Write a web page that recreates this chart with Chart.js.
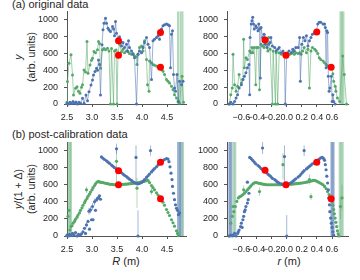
<!DOCTYPE html>
<html>
<head>
<meta charset="utf-8">
<script src="https://cdn.jsdelivr.net/npm/chart.js@4.4.1/dist/chart.umd.min.js"></script>
<style>
  html, body { margin: 0; padding: 0; background: #fff; }
  body { width: 360px; height: 280px; position: relative; overflow: hidden;
         font-family: "Liberation Sans", Arial, sans-serif; color: #262626; }
  canvas { position: absolute; }
  .ttl { position: absolute; white-space: nowrap; font-size: 11px; line-height: 13px; }
  .ylab { position: absolute; white-space: nowrap; font-size: 10.5px; line-height: 13px; text-align: center;
          transform: translate(-50%, -50%) rotate(-90deg); }
  .xlab { position: absolute; white-space: nowrap; font-size: 11px; transform: translate(-50%, -50%); }
</style>
</head>
<body>
<div class="ttl" style="left:12px;top:-2px">(a) original data</div>
<div class="ttl" style="left:12px;top:128px">(b) post-calibration data</div>
<div class="ylab" style="left:25px;top:57px"><i>y</i><br>(arb. units)</div>
<div class="ylab" style="left:25px;top:189px"><i>y</i>/(1 + Δ)<br>(arb. units)</div>
<div class="xlab" style="left:126px;top:261px"><i>R</i> (m)</div>
<div class="xlab" style="left:289px;top:261px"><i>r</i> (m)</div>

<canvas id="cAL" width="160" height="128" style="left:30px;top:0px"></canvas>
<canvas id="cAR" width="160" height="128" style="left:195px;top:0px"></canvas>
<canvas id="cBL" width="160" height="128" style="left:30px;top:130px"></canvas>
<canvas id="cBR" width="160" height="128" style="left:195px;top:130px"></canvas>

<script>
// ---- values ----
const yTicks = [0, 200, 400, 600, 800, 1000];
const bigRTicks = [2.5, 3.0, 3.5, 4.0, 4.5];
const smallRTicks = [-0.6, -0.4, -0.2, 0.0, 0.2, 0.4, 0.6];
const yTop = 1100;

// (a) original data, against R  [R, y]
const aBlueR = [[2.50,10],[2.53,0],[2.56,20],[2.59,5],[2.62,30],[2.65,10],[2.68,25],[2.71,0],[2.74,20],[2.77,10],
  [2.81,67],[2.84,10],[2.88,107],[2.91,40],[2.94,147],[2.98,226],[3.01,286],[3.03,345],[3.06,385],[3.09,425],
  [3.11,400],[3.13,524],[3.15,470],[3.17,107],[3.20,703],[3.22,881],[3.24,960],[3.27,1020],[3.29,960],[3.32,900],
  [3.34,880],[3.37,861],[3.41,920],[3.43,890],[3.45,810],[3.47,980],[3.49,840],[3.52,762],[3.55,800],[3.57,730],
  [3.59,690],[3.62,730],[3.65,670],[3.69,710],[3.71,630],[3.73,750],[3.75,670],[3.79,630],[3.82,590],[3.85,550],
  [3.89,0],[3.92,590],[3.95,630],[3.99,610],[4.02,670],[4.05,730],[4.09,790],[4.12,710],[4.15,670],[4.19,290],
  [4.22,750],[4.25,770],[4.29,790],[4.32,810],[4.35,770],[4.39,890],[4.42,930],[4.45,940],[4.49,950],[4.52,940],
  [4.55,930],[4.57,430],[4.59,830],[4.61,870],[4.63,350],[4.65,190],[4.67,150],[4.70,350],[4.73,30],[4.75,270],
  [4.79,230],[4.82,270]];
const aGreenR = [[2.50,20],[2.51,266],[2.54,484],[2.58,584],[2.61,345],[2.63,107],[2.67,187],[2.70,206],[2.73,150],[2.76,127],
  [2.79,200],[2.81,230],[2.84,405],[2.87,380],[2.90,742],[2.92,365],[2.96,464],[2.99,520],[3.01,544],[3.04,623],
  [3.07,610],[3.11,643],[3.13,742],[3.15,720],[3.17,425],[3.21,643],[3.24,660],[3.27,643],[3.31,663],[3.34,630],
  [3.37,0],[3.39,660],[3.43,0],[3.45,630],[3.48,640],[3.50,0],[3.52,610],[3.55,710],[3.59,620],[3.62,650],
  [3.65,610],[3.69,630],[3.72,620],[3.75,600],[3.79,590],[3.82,600],[3.85,570],[3.89,560],[3.90,470],[3.92,590],
  [3.95,670],[3.99,690],[4.02,630],[4.05,750],[4.09,530],[4.11,230],[4.14,150],[4.15,510],[4.19,490],[4.22,470],
  [4.25,460],[4.29,450],[4.32,440],[4.35,430],[4.39,410],[4.42,390],[4.45,350],[4.49,290],[4.52,270],[4.55,250],
  [4.59,210],[4.62,170],[4.65,110],[4.69,70],[4.72,30],[4.75,10],[4.80,330],[4.83,20]];
const aRedR = [[3.53,750],[3.53,580],[4.37,848],[4.37,436]];
const aGreenBarsR = [[4.72,0,1100],[4.77,0,1100],[4.81,0,1100]];

// (a) original data, against r
const aBlueRho = [[-0.76,0],[-0.74,20],[-0.71,0],[-0.69,30],[-0.67,70],[-0.65,110],[-0.63,190],[-0.60,230],[-0.58,290],[-0.56,330],
  [-0.54,370],[-0.52,430],[-0.50,470],[-0.49,110],[-0.485,790],[-0.47,950],[-0.46,990],[-0.45,1030],[-0.44,950],[-0.43,890],
  [-0.41,930],[-0.40,910],[-0.38,870],[-0.37,950],[-0.36,890],[-0.35,310],[-0.34,910],[-0.32,790],[-0.30,830],[-0.29,710],
  [-0.26,670],[-0.24,710],[-0.22,730],[-0.21,790],[-0.19,690],[-0.16,670],[-0.14,630],[-0.12,650],[-0.10,670],[-0.07,610],
  [-0.05,630],[-0.03,590],[-0.02,0],[0.00,590],[0.03,630],[0.06,610],[0.08,650],[0.10,630],[0.12,670],[0.15,670],
  [0.17,790],[0.18,270],[0.20,710],[0.22,790],[0.24,750],[0.26,810],[0.28,690],[0.30,750],[0.32,790],[0.34,830],
  [0.37,850],[0.39,850],[0.41,950],[0.43,970],[0.45,970],[0.48,950],[0.50,950],[0.51,910],[0.52,430],[0.53,870],
  [0.54,850],[0.55,330],[0.56,150],[0.57,190],[0.59,330],[0.60,30],[0.61,110],[0.62,30],[0.64,0]];
const aGreenRho = [[-0.76,0],[-0.74,110],[-0.72,190],[-0.71,590],[-0.69,230],[-0.67,150],[-0.65,210],[-0.63,350],[-0.60,250],[-0.58,290],
  [-0.57,770],[-0.56,430],[-0.54,550],[-0.52,530],[-0.49,630],[-0.47,610],[-0.46,670],[-0.45,610],[-0.43,670],[-0.41,230],
  [-0.40,670],[-0.38,670],[-0.36,170],[-0.34,710],[-0.32,690],[-0.30,670],[-0.27,710],[-0.25,630],[-0.24,790],[-0.22,650],
  [-0.19,0],[-0.18,630],[-0.15,0],[-0.14,610],[-0.12,0],[-0.10,610],[-0.07,590],[-0.05,610],[-0.03,590],[-0.01,590],
  [0.01,610],[0.04,590],[0.06,600],[0.08,620],[0.10,590],[0.12,610],[0.15,600],[0.17,610],[0.19,590],[0.21,630],
  [0.23,670],[0.26,610],[0.28,650],[0.30,190],[0.32,630],[0.34,670],[0.37,650],[0.39,630],[0.41,600],[0.43,550],
  [0.45,530],[0.48,510],[0.50,490],[0.52,470],[0.54,455],[0.56,445],[0.59,430],[0.61,360],[0.62,270],[0.64,210],
  [0.65,150],[0.67,70],[0.70,30],[0.74,570],[0.76,350],[0.79,0]];
const aRedRho = [[-0.287,760],[-0.01,580],[0.397,856],[0.587,436]];
const aGreenBarsRho = [[0.71,0,1100],[0.73,0,1100],[0.75,0,1100]];

// (b) post-calibration data, against R
const bBlueR = [[2.50,10],[2.53,0],[2.55,20],[2.58,5],[2.61,30],[2.64,10],[2.67,40],[2.70,0],[2.73,20],[2.76,10],
  [2.79,25],[2.82,50],[2.85,90],[2.87,30],[2.89,130],[2.92,170],[2.94,290],[2.95,80],[2.97,305],[2.99,190],
  [3.01,345],[3.02,190],[3.05,400],[3.07,300],[3.09,420],[3.11,440],[3.13,450],[3.15,470],[3.17,430],
  [3.19,925],[3.22,910],[3.25,895],[3.29,880],[3.32,865],[3.35,850],[3.39,830],[3.42,815],[3.45,800],[3.49,785],
  [3.52,770],[3.55,755],[3.59,740],[3.62,725],[3.65,710],[3.69,695],[3.72,680],[3.75,665],[3.79,650],[3.82,635],
  [3.85,625],[3.89,615],[3.92,610],[3.95,615],[3.99,625],[4.02,640],[4.05,660],[4.09,685],[4.12,705],[4.15,725],
  [4.19,750],[4.22,770],[4.25,790],[4.29,810],[4.32,830],[4.35,850],[4.39,865],[4.42,880],[4.45,895],[4.49,905],
  [4.52,900],[4.54,870],[4.56,810],[4.58,735],[4.60,660],[4.61,580],[4.63,500],[4.65,425],[4.67,365],[4.69,325],
  [4.71,300],[4.73,250],[4.75,270],
  [3.49,1020],[3.88,920],[3.92,0],[4.17,1000]];
const bGreenR = [[2.50,0],[2.52,230],[2.54,300],[2.56,70],[2.58,110],[2.60,120],[2.62,150],[2.65,170],[2.67,195],[2.70,220],
  [2.72,245],[2.75,270],[2.77,300],[2.80,330],[2.82,360],[2.85,390],[2.87,415],[2.90,440],[2.92,465],[2.95,490],
  [2.97,515],[3.00,540],[3.02,565],[3.05,590],[3.07,610],[3.10,630],[3.13,640],[3.16,630],[3.19,627],[3.22,625],
  [3.25,620],[3.28,615],[3.31,612],[3.34,608],[3.37,605],[3.40,603],[3.43,602],[3.46,600],[3.49,600],[3.52,600],
  [3.55,600],[3.58,602],[3.61,603],[3.64,605],[3.67,607],[3.70,608],[3.73,610],[3.76,612],[3.79,614],[3.82,616],
  [3.85,618],[3.88,620],[3.91,623],[3.94,626],[3.97,630],[4.00,634],[4.03,638],[4.06,643],[4.09,648],[4.12,650],
  [4.15,625],[4.19,590],[4.22,565],[4.25,540],[4.29,505],[4.32,480],[4.35,455],[4.39,430],[4.42,395],[4.45,360],
  [4.49,310],[4.52,275],[4.55,240],[4.59,190],[4.62,155],[4.65,115],[4.69,60],[4.71,30],[4.73,5],
  [2.89,540],[3.49,874],[3.90,560],[4.19,520]];
const bRedR = [[3.53,765],[3.53,600],[4.37,862],[4.37,436]];
const bBlueErrR = [[3.49,960,1080],[3.88,600,1060],[3.92,0,300],[4.17,940,1060],[2.89,100,160],[2.94,250,330],[2.97,265,345],[3.01,305,385],[3.05,360,440]];
const bGreenErrR = [[2.89,500,580],[3.49,600,1035],[3.90,330,680],[4.19,480,560]];
const bBlueBarsR = [[4.72,0,1100],[4.755,0,1100],[4.79,0,1100]];
const bGreenBarsR = [[2.53,0,1100],[2.555,0,1100],[2.58,0,1100],[4.76,0,1100],[4.82,0,1100]];

// (b) post-calibration data, against r
const bBlueRho = [[-0.76,0],[-0.74,10],[-0.72,0],[-0.71,10],[-0.69,30],[-0.67,0],[-0.65,30],[-0.64,50],[-0.63,70],[-0.61,110],
  [-0.60,150],[-0.59,100],[-0.58,190],[-0.57,230],[-0.56,285],[-0.55,305],[-0.54,345],[-0.52,385],[-0.51,425],[-0.50,500],
  [-0.49,920],[-0.47,905],[-0.45,885],[-0.43,865],[-0.41,845],[-0.38,825],[-0.36,810],[-0.34,790],[-0.32,780],[-0.30,770],
  [-0.27,745],[-0.25,725],[-0.23,710],[-0.21,695],[-0.19,675],[-0.16,660],[-0.14,645],[-0.12,630],[-0.10,620],[-0.07,610],
  [-0.05,605],[-0.03,600],[-0.01,600],[0.01,605],[0.04,615],[0.06,625],[0.08,640],[0.10,655],[0.12,670],[0.15,690],
  [0.17,705],[0.19,725],[0.21,745],[0.23,765],[0.26,785],[0.28,800],[0.30,815],[0.32,830],[0.34,845],[0.37,860],
  [0.39,870],[0.41,885],[0.43,900],[0.45,915],[0.47,920],[0.49,905],[0.50,885],[0.51,835],[0.52,775],[0.53,700],
  [0.54,620],[0.55,540],[0.555,445],[0.565,365],[0.57,285],[0.58,210],[0.59,150],[0.60,100],[0.61,50],[0.62,10],
  [-0.52,630],[-0.32,1030],[-0.03,930],[0.00,0],[0.23,1000]];
const bGreenRho = [[-0.76,0],[-0.74,150],[-0.72,230],[-0.71,345],[-0.70,285],[-0.68,345],[-0.66,405],[-0.64,445],[-0.62,460],[-0.60,470],
  [-0.58,485],[-0.56,500],[-0.54,520],[-0.52,540],[-0.50,560],[-0.48,580],[-0.46,600],[-0.44,615],[-0.42,625],[-0.40,625],
  [-0.38,620],[-0.36,615],[-0.34,612],[-0.32,608],[-0.30,605],[-0.28,602],[-0.26,600],[-0.24,600],[-0.22,600],[-0.20,600],
  [-0.18,600],[-0.16,600],[-0.14,600],[-0.12,600],[-0.10,600],[-0.08,600],[-0.06,600],[-0.04,600],[-0.02,600],[0.00,602],
  [0.02,603],[0.04,605],[0.06,607],[0.08,608],[0.10,610],[0.12,612],[0.14,614],[0.16,616],[0.18,618],[0.20,620],
  [0.22,623],[0.24,626],[0.26,630],[0.28,634],[0.30,638],[0.32,643],[0.34,648],[0.36,650],[0.38,648],[0.40,640],
  [0.42,630],[0.44,620],[0.46,610],[0.48,600],[0.50,580],[0.52,555],[0.54,520],[0.56,485],[0.58,450],[0.59,430],
  [0.60,400],[0.61,360],[0.62,310],[0.63,260],[0.64,210],[0.65,160],[0.66,110],[0.67,60],[0.68,25],[0.69,0],
  [-0.57,540],[-0.36,520],[-0.05,835],[0.30,660],[0.32,460],[0.71,345],[0.73,445]];
const bRedRho = [[-0.287,768],[-0.01,600],[0.397,862],[0.587,436]];
const bBlueErrRho = [[-0.32,960,1100],[-0.03,620,1060],[0.00,0,245],[0.23,935,1060]];
const bGreenErrRho = [[-0.57,490,590],[-0.36,470,570],[-0.05,660,970],[0.30,600,720],[0.32,420,500],[0.71,200,450],[0.73,300,600]];
const bBlueBarsRho = [[-0.76,0,1100],[-0.745,0,1100],[-0.73,0,1100],[0.59,0,1100],[0.605,0,1100],[0.62,0,1100]];
const bGreenBarsRho = [[-0.70,0,1100],[-0.68,0,1100],[0.70,0,1100],[0.72,0,1100],[0.74,0,1100]];

// ---- styling ----
const FONT = '"Liberation Sans", Arial, sans-serif';
const BLUE = '#4c72b0', GREEN = '#55a868', RED = '#ff0000';
const BLUE_LINE = 'rgba(76,114,176,0.55)', GREEN_LINE = 'rgba(85,168,104,0.55)';
const BLUE_ERR = 'rgba(76,114,176,0.5)', GREEN_ERR = 'rgba(85,168,104,0.45)';
const AXIS = '#555';

const toXY = pairs => pairs.map(p => ({ x: p[0], y: p[1] }));

function lineSet(pairs, dot, line, order) {
  return { data: toXY(pairs), showLine: true, borderColor: line, borderWidth: 1,
           pointRadius: 1.5, pointBackgroundColor: dot, pointBorderWidth: 0, clip: false, order };
}
function dotSet(pairs, dot, r, order) {
  return { data: toXY(pairs), showLine: false, pointRadius: r,
           pointBackgroundColor: dot, pointBorderWidth: 0, clip: false, order };
}
// one small two-point line per error bar
function errSets(list, col, w, order) {
  return list.map(e => ({ data: [{ x: e[0], y: e[1] }, { x: e[0], y: e[2] }], showLine: true,
    borderColor: col, borderWidth: w, pointRadius: 0, clip: false, order }));
}

const fmtR = v => Number(v).toFixed(1);
const fmtRho = v => (v < -1e-9 ? '\u2212' : '') + Math.abs(v).toFixed(1);

function tickStyle(pad, fmt) {
  return { autoSkip: false, maxRotation: 0, padding: pad, color: '#262626',
           font: { family: FONT, size: 9 }, callback: fmt };
}
const gridStyle = { drawOnChartArea: false, tickLength: 3, color: AXIS, lineWidth: 1 };
const borderStyle = { display: true, color: AXIS, width: 1 };

// area = chart area inside the canvas {l, t, r, b}
function panel(id, xMin, xMax, xTicks, fmt, area, datasets) {
  const cv = document.getElementById(id);
  new Chart(cv, {
    type: 'scatter',
    data: { datasets },
    options: {
      responsive: false,
      animation: false,
      devicePixelRatio: 1,
      layout: { padding: { left: 0, top: area.t, right: cv.width - area.r, bottom: 0 } },
      plugins: { legend: { display: false }, tooltip: { enabled: false } },
      scales: {
        x: {
          type: 'linear', min: xMin, max: xMax, offset: false,
          afterBuildTicks: s => { s.ticks = xTicks.map(v => ({ value: v })); },
          afterFit: s => { s.height = cv.height - area.b; },
          ticks: tickStyle(5, fmt), grid: gridStyle, border: borderStyle
        },
        y: {
          type: 'linear', min: 0, max: yTop,
          afterBuildTicks: s => { s.ticks = yTicks.map(v => ({ value: v })); },
          afterFit: s => { s.width = area.l; },
          ticks: tickStyle(6, v => String(v)), grid: gridStyle, border: borderStyle
        }
      }
    }
  });
}

const areaL = { l: 37, t: 11, r: 156, b: 104 };
const areaR = { l: 32, t: 11, r: 153, b: 104 };
const areaBL = { l: 37, t: 12, r: 156, b: 106 };
const areaBR = { l: 32, t: 12, r: 153, b: 106 };

panel('cAL', 2.5, 4.88, bigRTicks, fmtR, areaL, [
  dotSet(aRedR, RED, 3.5, 0),
  lineSet(aBlueR, BLUE, BLUE_LINE, 1),
  lineSet(aGreenR, GREEN, GREEN_LINE, 2),
  ...errSets(aGreenBarsR, GREEN_ERR, 2, 3)
]);

panel('cAR', -0.79, 0.81, smallRTicks, fmtRho, areaR, [
  dotSet(aRedRho, RED, 3.5, 0),
  lineSet(aBlueRho, BLUE, BLUE_LINE, 1),
  lineSet(aGreenRho, GREEN, GREEN_LINE, 2),
  ...errSets(aGreenBarsRho, GREEN_ERR, 2, 3)
]);

panel('cBL', 2.5, 4.88, bigRTicks, fmtR, areaBL, [
  dotSet(bRedR, RED, 3.5, 0),
  dotSet(bBlueR, BLUE, 1.6, 1),
  dotSet(bGreenR, GREEN, 1.6, 2),
  ...errSets(bBlueErrR, BLUE_ERR, 1, 3),
  ...errSets(bGreenErrR, GREEN_ERR, 1, 3),
  ...errSets(bBlueBarsR, BLUE_ERR, 2, 4),
  ...errSets(bGreenBarsR, GREEN_ERR, 2, 4)
]);

panel('cBR', -0.79, 0.81, smallRTicks, fmtRho, areaBR, [
  dotSet(bRedRho, RED, 3.5, 0),
  dotSet(bBlueRho, BLUE, 1.6, 1),
  dotSet(bGreenRho, GREEN, 1.6, 2),
  ...errSets(bBlueErrRho, BLUE_ERR, 1, 3),
  ...errSets(bGreenErrRho, GREEN_ERR, 1, 3),
  ...errSets(bBlueBarsRho, BLUE_ERR, 2, 4),
  ...errSets(bGreenBarsRho, GREEN_ERR, 2, 4)
]);
</script>
</body>
</html>
